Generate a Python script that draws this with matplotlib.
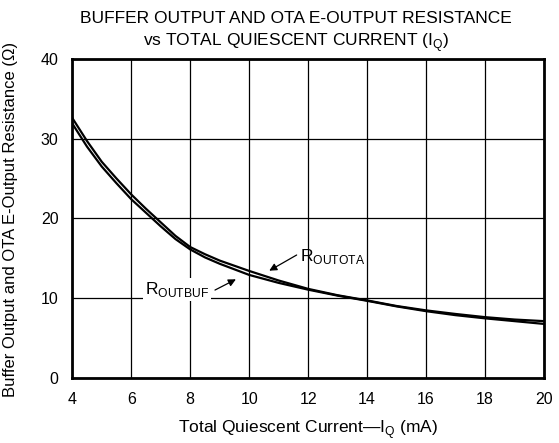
import matplotlib
matplotlib.use("Agg")
import matplotlib.pyplot as plt

plt.rcParams["font.family"] = ["Liberation Sans", "DejaVu Sans"]
plt.rcParams["mathtext.fontset"] = "custom"
plt.rcParams["mathtext.rm"] = "Liberation Sans"

# total quiescent current (mA)
iq = [4, 4.5, 5, 5.5, 6, 6.5, 7, 7.5, 8, 8.5, 9, 10, 11, 12, 13, 14, 15, 16, 17, 18, 19, 20]
# output resistance (ohm)
r_outota = [32.6, 29.7, 27.1, 25.0, 23.0, 21.2, 19.5, 17.8, 16.4, 15.5, 14.7, 13.4, 12.2,
            11.15, 10.35, 9.7, 9.0, 8.45, 8.0, 7.6, 7.3, 7.1]
r_outbuf = [31.9, 29.0, 26.5, 24.4, 22.4, 20.7, 19.0, 17.4, 16.1, 15.1, 14.3, 12.9, 11.9,
            11.05, 10.3, 9.65, 8.95, 8.35, 7.85, 7.45, 7.1, 6.75]

xticks = [4, 6, 8, 10, 12, 14, 16, 18, 20]
yticks = [0, 10, 20, 30, 40]

fig = plt.figure(figsize=(5.59, 4.43), dpi=100)
ax = fig.add_axes([0.1293, 0.1474, 0.8439, 0.7194])

ax.plot(iq, r_outota, color="black", lw=1.6, zorder=3)
ax.plot(iq, r_outbuf, color="black", lw=1.6, zorder=3)

ax.set_xlim(4, 20)
ax.set_ylim(0, 40)
ax.set_xticks(xticks)
ax.set_yticks(yticks)
ax.grid(True, color="black", lw=0.9)
ax.tick_params(length=0, labelsize=11.5, pad=10)
for s in ax.spines.values():
    s.set_linewidth(2)

ax.set_xlabel("Total Quiescent Current\u2014I$_{\\mathregular{Q}}$ (mA)", fontsize=12.5, va="baseline")
ax.xaxis.set_label_coords(0.5, -0.1735)
ax.set_ylabel("Buffer Output and OTA E-Output Resistance (\u03a9)", fontsize=12, va="center")
ax.yaxis.set_label_coords(-0.132, 0.498)

fig.text(0.5295, 0.947, "BUFFER OUTPUT AND OTA E-OUTPUT RESISTANCE",
         fontsize=12.5, ha="center", va="baseline")
fig.text(0.5295, 0.8955, "vs TOTAL QUIESCENT CURRENT (I$_{\\mathregular{Q}}$)",
         fontsize=12.5, ha="center", va="baseline")

arrow = dict(arrowstyle="-|>", color="black", lw=0.9, mutation_scale=11, shrinkA=0, shrinkB=0)
ax.annotate("", xy=(10.68, 13.43), xytext=(11.61, 15.4), arrowprops=arrow, zorder=4)
ax.annotate("", xy=(9.55, 12.35), xytext=(8.84, 11.0), arrowprops=arrow, zorder=4)

ax.text(11.73, 14.68, "R$_{\\mathregular{OUTOTA}}$", fontsize=12.5, ha="left", va="baseline", zorder=4)
ax.text(6.47, 10.5, "R$_{\\mathregular{OUTBUF}}$", fontsize=12.5, ha="left", va="baseline", zorder=4,
        bbox=dict(boxstyle="square,pad=0.1", fc="white", ec="none"))

fig.savefig("out.png", dpi=100)
